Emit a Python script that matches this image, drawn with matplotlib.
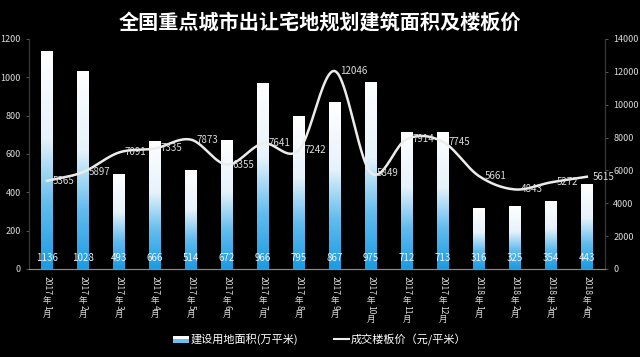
import numpy as np
import matplotlib
matplotlib.use("Agg")
import matplotlib.pyplot as plt
from matplotlib.colors import LinearSegmentedColormap
from matplotlib.patches import Rectangle
from matplotlib.lines import Line2D
from matplotlib.legend_handler import HandlerBase
from matplotlib.font_manager import FontProperties

plt.rcParams['font.family'] = ['Noto Sans CJK SC', 'DejaVu Sans']

# ---------------- data ----------------
years = ["2017"] * 12 + ["2018"] * 4
months = ["1", "2", "3", "4", "5", "6", "7", "8", "9", "10", "11", "12", "1", "2", "3", "4"]
area = [1136, 1028, 493, 666, 514, 672, 966, 795, 867, 975, 712, 713, 316, 325, 354, 443]
price = [5365, 5897, 7091, 7335, 7873, 6355, 7641, 7242, 12046, 5849, 7914, 7745, 5661, 4843, 5272, 5615]
left_ticks = [0, 200, 400, 600, 800, 1000, 1200]
right_ticks = [0, 2000, 4000, 6000, 8000, 10000, 12000, 14000]
title = "全国重点城市出让宅地规划建筑面积及楼板价"
bar_label = "建设用地面积(万平米)"
line_label = "成交楼板价（元/平米）"

# ---------------- style ----------------
BG = "black"
TXT = "#dcdcdc"
grad_cmap = LinearSegmentedColormap.from_list(
    "g", [(0.0, "#1a9be3"), (0.3, "#62bcee"), (0.6, "#e6f3fb"), (1.0, "#ffffff")])

fig = plt.figure(figsize=(6.4, 3.57), dpi=100, facecolor=BG)
ax = fig.add_axes([0.0453, 0.2465, 0.8997, 0.6443])
ax.set_facecolor(BG)
ax2 = ax.twinx()

x = np.arange(len(area))
bars = ax.bar(x, area, width=0.33, color="none", edgecolor="none", zorder=2)
grad = np.linspace(0, 1, 256).reshape(-1, 1)
for b in bars:
    x0, w, h = b.get_x(), b.get_width(), b.get_height()
    ax.imshow(grad, cmap=grad_cmap, origin="lower", aspect="auto",
              extent=(x0, x0 + w, 0, h), zorder=2, interpolation="bilinear")

ax.set_xlim(-0.5, len(area) - 0.5)
ax.set_ylim(0, 1200)
ax.set_yticks(left_ticks)
ax.set_xticks(x)
ax.set_xticklabels([])
ax.tick_params(axis="x", length=0)
ax.tick_params(axis="y", length=2, colors="#555555", labelcolor=TXT, labelsize=6.5, pad=4)

for i, v in enumerate(area):
    ax.annotate(str(v), xy=(i, 0), xytext=(0, 8), textcoords="offset points",
                ha="center", va="center", fontsize=7, color="#eef6ff", zorder=5)

# smoothed price line (cubic Hermite / Catmull-Rom through the data points)
def smooth(xs, ys, n=24):
    xs = np.asarray(xs, float); ys = np.asarray(ys, float)
    out_x, out_y = [], []
    m = len(ys)
    tang = np.zeros(m)
    for i in range(m):
        if i == 0:
            tang[i] = ys[1] - ys[0]
        elif i == m - 1:
            tang[i] = ys[-1] - ys[-2]
        else:
            tang[i] = (ys[i + 1] - ys[i - 1]) / 2
    for i in range(m - 1):
        t = np.linspace(0, 1, n, endpoint=(i == m - 2))
        h00 = 2 * t**3 - 3 * t**2 + 1
        h10 = t**3 - 2 * t**2 + t
        h01 = -2 * t**3 + 3 * t**2
        h11 = t**3 - t**2
        out_y.append(h00 * ys[i] + h10 * tang[i] + h01 * ys[i + 1] + h11 * tang[i + 1])
        out_x.append(xs[i] + t * (xs[i + 1] - xs[i]))
    return np.concatenate(out_x), np.concatenate(out_y)

sx, sy = smooth(x, price)
ax2.plot(sx, sy, color="#ececec", lw=1.8, zorder=4)
ax2.set_ylim(0, 14000)
ax2.set_yticks(right_ticks)
ax2.tick_params(axis="y", length=2, colors="#555555", labelcolor=TXT, labelsize=6.5, pad=4)
for i, v in enumerate(price):
    ax2.annotate(str(v), xy=(i, v), xytext=(4, 0), textcoords="offset points",
                 ha="left", va="center", fontsize=7, color=TXT, zorder=6)

for a in (ax, ax2):
    a.spines["top"].set_visible(False)
    a.spines["left"].set_color("#3a3a3a")
    a.spines["right"].set_color("#3a3a3a")
    a.spines["bottom"].set_color("#8a8a8a")
    a.spines["left"].set_linewidth(0.8)
    a.spines["right"].set_linewidth(0.8)

# vertical (stacked) x labels: digits rotated, CJK upright
XFS = 6.2
fp = FontProperties(family=['Noto Sans CJK SC', 'DejaVu Sans'], size=XFS)
renderer = fig.canvas.get_renderer()
px2pt = 72.0 / fig.dpi

def seg_len(s, rot):
    if rot == 0:
        return XFS * 1.02
    w, _, _ = renderer.get_text_width_height_descent(s, fp, ismath=False)
    return w * px2pt + 0.6

for i, (yr, mo) in enumerate(zip(years, months)):
    off = -5.0
    for s, rot in [(yr, -90), ("年", 0), (mo, -90), ("月", 0)]:
        L = seg_len(s, rot)
        ax.annotate(s, xy=(i, 0), xycoords=("data", "axes fraction"),
                    xytext=(0, off - L / 2), textcoords="offset points",
                    ha="center", va="center", rotation=rot, rotation_mode="anchor",
                    fontproperties=fp, color=TXT, annotation_clip=False)
        off -= L

fig.text(0.5, 0.938, title, ha="center", va="center", fontsize=14.5,
         color="white", fontweight="bold")

class GradHandler(HandlerBase):
    def create_artists(self, legend, orig_handle, xdescent, ydescent, width, height, fontsize, trans):
        r1 = Rectangle((-xdescent, -ydescent + height * 0.5), width, height * 0.5,
                       facecolor="#ffffff", edgecolor="none", transform=trans)
        r2 = Rectangle((-xdescent, -ydescent), width, height * 0.5,
                       facecolor="#6cc0ee", edgecolor="none", transform=trans)
        return [r1, r2]

h_bar = Rectangle((0, 0), 1, 1)
h_line = Line2D([], [], color="#ececec", lw=1.5)
leg = fig.legend([h_bar, h_line], [bar_label, line_label], loc="center",
                 bbox_to_anchor=(0.5, 0.048), ncol=2, frameon=False, fontsize=8,
                 handlelength=1.4, handletextpad=0.15, columnspacing=3.2,
                 handler_map={Rectangle: GradHandler()})
for t in leg.get_texts():
    t.set_color("white")

fig.savefig("out.png", dpi=100, facecolor=BG)
